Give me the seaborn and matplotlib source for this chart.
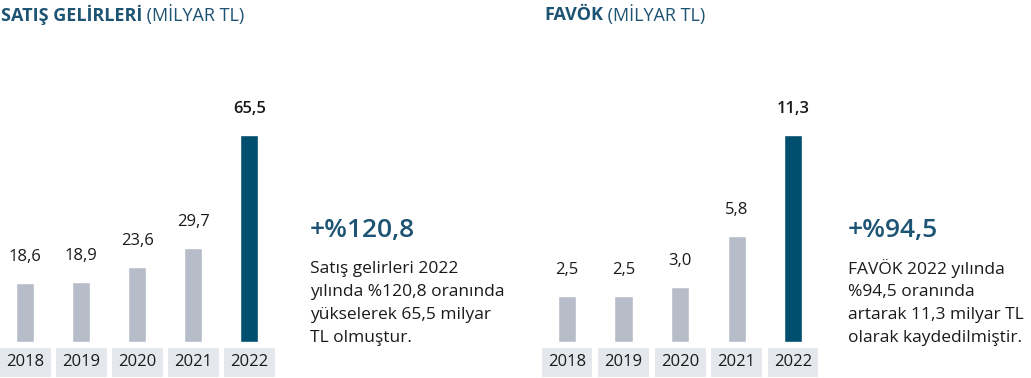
import matplotlib
matplotlib.use("Agg")
import matplotlib.pyplot as plt
import seaborn as sns

# ---- data ----
years = ["2018", "2019", "2020", "2021", "2022"]
sales = [18.6, 18.9, 23.6, 29.7, 65.5]
ebitda = [2.5, 2.5, 3.0, 5.8, 11.3]

title_left_bold = "SATIŞ GELİRLERİ"
title_right_bold = "FAVÖK"
title_unit = " (MİLYAR TL)"
big_left = "+%120,8"
big_right = "+%94,5"
body_left = ["Satış gelirleri 2022", "yılında %120,8 oranında",
             "yükselerek 65,5 milyar", "TL olmuştur."]
body_right = ["FAVÖK 2022 yılında", "%94,5 oranında",
              "artarak 11,3 milyar TL", "olarak kaydedilmiştir."]

# ---- style ----
sns.set_theme(style="white")
FONT = ["Open Sans", "DejaVu Sans"]
plt.rcParams["font.family"] = FONT

GREY = "#b6bdc9"
DARK = "#004f6e"
TEAL = "#1d5373"
BOX = "#e4e7ec"
TXT = "#1a1a1a"

W, H = 1031, 378
fig = plt.figure(figsize=(W / 100, H / 100), dpi=100)

def fx(px):
    return px / W

def fy(py):
    return 1 - py / H

base_y = 342
axes_h = 242

def draw_panel(ax, values):
    palette = [GREY] * (len(values) - 1) + [DARK]
    sns.barplot(x=years, y=values, hue=years, palette=palette, legend=False,
                width=0.32, saturation=1, ax=ax)
    ax.set_xlim(-0.45, len(values) - 0.55)
    ax.set_ylim(0, max(values) * axes_h / 207)
    sns.despine(ax=ax, left=True, bottom=True)
    ax.set_yticks([])
    ax.set_xlabel("")
    ax.set_ylabel("")
    ax.tick_params(axis="x", length=0, pad=9, labelsize=12, labelcolor=TXT)
    for lab in ax.get_xticklabels():
        lab.set_bbox(dict(facecolor=BOX, edgecolor="none",
                          boxstyle="square,pad=0.38"))
    n = len(ax.containers)
    for i, cont in enumerate(ax.containers):
        v = cont.datavalues[0]
        ax.bar_label(cont, labels=[f"{v:.1f}".replace(".", ",")],
                     padding=13, fontsize=12, color=TXT,
                     fontweight="semibold" if i == n - 1 else "normal")

ax1 = fig.add_axes([fx(0), 1 - base_y / H, fx(274.4), axes_h / H])
draw_panel(ax1, sales)
ax2 = fig.add_axes([fx(541.6), 1 - base_y / H, fx(276.9), axes_h / H])
draw_panel(ax2, ebitda)

# titles
fig.canvas.draw()
renderer = fig.canvas.get_renderer()
for x0, bold in [(1, title_left_bold), (544, title_right_bold)]:
    t = fig.text(fx(x0), fy(15), bold, fontsize=13, fontweight="bold",
                 color=TEAL, va="center", ha="left")
    bb = t.get_window_extent(renderer)
    fig.text(bb.x1 / W, fy(15), title_unit, fontsize=13, color=TEAL,
             va="center", ha="left")

# annotations
for x0, big, body in [(310, big_left, body_left), (848, big_right, body_right)]:
    fig.text(fx(x0), fy(230), big, fontsize=19, fontweight="semibold",
             color=TEAL, va="center", ha="left")
    for k, line in enumerate(body):
        fig.text(fx(x0), fy(269 + 23 * k), line, fontsize=12.5, color=TXT,
                 va="center", ha="left")

fig.savefig("out.png", dpi=100)
